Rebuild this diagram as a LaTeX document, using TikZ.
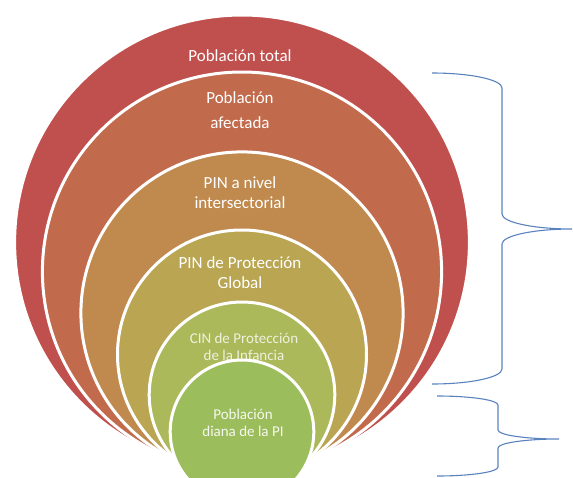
\documentclass[tikz,border=0pt]{standalone}
\usepackage{fontspec}
\setmainfont{Carlito}
\definecolor{cred}{RGB}{192,80,77}
\definecolor{cor}{RGB}{194,106,76}
\definecolor{cbr}{RGB}{192,137,78}
\definecolor{cyl}{RGB}{185,165,82}
\definecolor{cyg}{RGB}{172,185,90}
\definecolor{cgr}{RGB}{155,189,92}
\definecolor{braceblue}{RGB}{90,131,190}
\begin{document}
\begin{tikzpicture}[x=1pt,y=-1pt,
  ring/.style={circle, draw=white, line width=3pt, inner sep=0pt, minimum size=#1},
  lbl/.style={text=white, align=center, inner sep=0pt, font=\fontsize{17}{20}\selectfont},
  small/.style={text=white, align=center, inner sep=0pt, font=\fontsize{15}{17}\selectfont},
  bracestyle/.style={draw=braceblue, line width=1.1pt}]
\clip (0,0) rectangle (573,477);
\node[ring=454.8pt, fill=cred] (red) at (242,242.4) {};
\node[lbl] (ttotal) at (240,56) {Población total};
\node[ring=399.2pt, fill=cor] (aff) at (242,271.6) {};
\node[lbl, font=\fontsize{17}{25}\selectfont] (taff) at (240,110.5) {Población\\afectada};
\node[ring=322.2pt, fill=cbr] (pin) at (242,313) {};
\node[lbl] (tpin) at (240,193) {PIN a nivel\\intersectorial};
\node[ring=249pt, fill=cyl] (glob) at (242,354.5) {};
\node[lbl] (tglob) at (240,272.5) {PIN de Protección\\Global};
\node[ring=185.6pt, fill=cyg] (cin) at (242,394.8) {};
\node[small, text opacity=0.8] (tcin) at (244,346.5) {CIN de Protección\\de la Infancia};
\node[ring=143.6pt, fill=cgr] (diana) at (242,431.8) {};
\node[small, text opacity=0.9] (tdiana) at (243,422.5) {Población\\diana de la PI};
% braces
\draw[bracestyle] (432,73) .. controls (470.6,73) and (502,79.7) .. (502,88)
  -- (502,214) .. controls (502,222.3) and (533.4,229) .. (572,229)
  .. controls (533.4,229) and (502,235.7) .. (502,244)
  -- (502,369) .. controls (502,377.3) and (470.6,384) .. (432,384);
\draw[bracestyle] (437,396) .. controls (470.7,396) and (498,400) .. (498,405)
  -- (498,430) .. controls (498,435) and (525.3,439) .. (559,439)
  .. controls (525.3,439) and (498,443) .. (498,448)
  -- (498,467) .. controls (498,472) and (470.7,476) .. (437,476);
\end{tikzpicture}
\end{document}
